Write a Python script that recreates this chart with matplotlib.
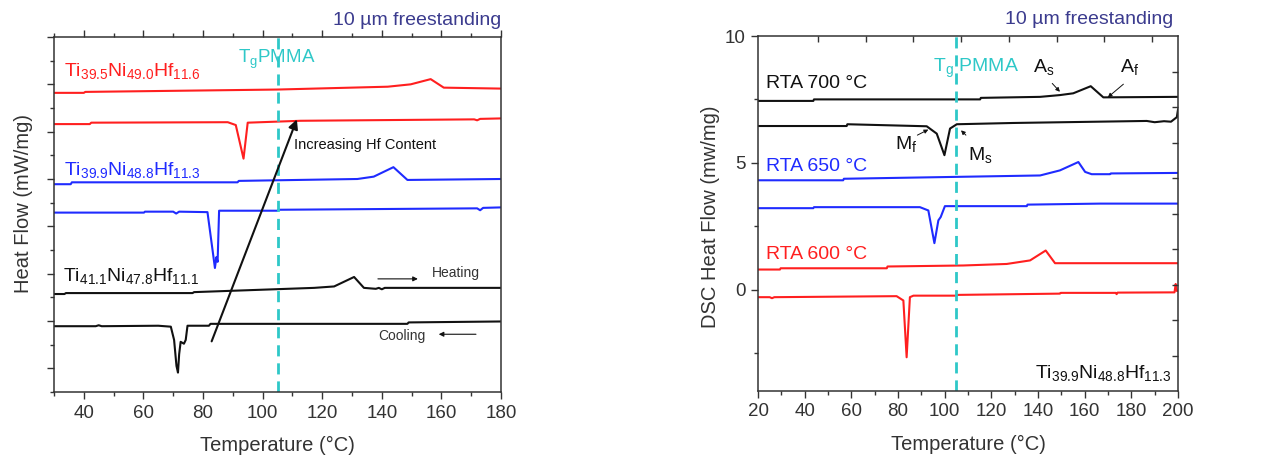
import matplotlib
matplotlib.use("Agg")
import matplotlib.pyplot as plt
from matplotlib.ticker import MultipleLocator, NullFormatter

plt.rcParams['font.family'] = ['Liberation Sans', 'DejaVu Sans']
plt.rcParams['mathtext.fontset'] = 'custom'
plt.rcParams['mathtext.rm'] = 'Liberation Sans'
plt.rcParams['mathtext.it'] = 'Liberation Sans:italic'
plt.rcParams['mathtext.bf'] = 'Liberation Sans:bold'
plt.rcParams['mathtext.default'] = 'regular'

# ---------------- composition series (left) ----------------
hf116_heat_T = [30, 40, 40.5, 105, 142, 149.7, 156.4, 160.8, 180]
hf116_heat_Q = [5.82, 5.82, 5.84, 5.89, 5.95, 6.00, 6.11, 5.93, 5.91]
hf116_cool_T = [30, 42, 42.5, 88.3, 91, 93.6, 95, 112.8, 171, 172, 173, 180]
hf116_cool_Q = [5.16, 5.16, 5.19, 5.20, 5.14, 4.43, 5.19, 5.23, 5.26, 5.24, 5.27, 5.28]

hf113_heat_T = [30, 35.6, 36, 91.6, 92, 131.8, 137.3, 143.9, 148.6, 180]
hf113_heat_Q = [3.89, 3.89, 3.93, 3.93, 3.96, 4.00, 4.05, 4.25, 3.98, 4.00]
hf113_cool_T = [30, 60.2, 60.5, 70, 71, 72, 81.5, 83.2, 84.0, 84.5, 84.9, 85.4, 105, 105.3, 172, 173, 174, 180]
hf113_cool_Q = [3.29, 3.29, 3.31, 3.31, 3.27, 3.31, 3.30, 2.50, 2.12, 2.35, 2.25, 3.33, 3.33, 3.35, 3.38, 3.34, 3.39, 3.40]

hf111_heat_T = [30, 33.5, 34, 76.5, 77, 117.3, 124, 130.7, 134, 138, 139, 140, 141, 180]
hf111_heat_Q = [1.57, 1.57, 1.59, 1.59, 1.61, 1.70, 1.73, 1.93, 1.70, 1.68, 1.70, 1.67, 1.70, 1.70]
hf111_cool_T = [30, 44, 45, 46, 65, 69.2, 70.3, 71.1, 71.6, 72.0, 72.5, 73.6, 74.2, 74.8, 82, 82.5, 148.6, 149, 180]
hf111_cool_Q = [0.89, 0.89, 0.91, 0.89, 0.90, 0.88, 0.60, 0.05, -0.09, 0.30, 0.56, 0.52, 0.60, 0.90, 0.90, 0.94, 0.94, 0.97, 0.99]

# ---------------- annealing series (right) ----------------
rta700_heat_T = [20, 43.7, 44, 115.2, 115.5, 140.9, 149.4, 155.1, 162.6, 168.0, 200]
rta700_heat_Q = [7.44, 7.44, 7.50, 7.50, 7.56, 7.60, 7.67, 7.74, 8.02, 7.58, 7.60]
rta700_cool_T = [20, 58, 58.3, 92.3, 96.6, 99.9, 102.3, 105.2, 129.4, 186.6, 190, 194, 197, 199.5, 200]
rta700_cool_Q = [6.45, 6.45, 6.52, 6.44, 6.15, 5.30, 6.35, 6.52, 6.57, 6.65, 6.60, 6.64, 6.62, 6.80, 7.10]

rta650_heat_T = [20, 56.5, 56.8, 140.9, 149.4, 157.3, 160.2, 163, 170.9, 171.2, 200]
rta650_heat_Q = [4.31, 4.31, 4.37, 4.50, 4.70, 5.03, 4.64, 4.55, 4.55, 4.58, 4.60]
rta650_cool_T = [20, 43.7, 44, 89.4, 93.0, 95.6, 97.3, 98.3, 100.1, 135.2, 135.5, 166.6, 200]
rta650_cool_Q = [3.21, 3.21, 3.25, 3.25, 3.12, 1.83, 2.73, 2.86, 3.29, 3.29, 3.35, 3.39, 3.39]

rta600_heat_T = [20, 29.4, 29.7, 75.2, 75.5, 108, 126.6, 136.6, 143.3, 147.3, 200]
rta600_heat_Q = [0.79, 0.79, 0.84, 0.84, 0.91, 0.95, 1.01, 1.15, 1.54, 1.04, 1.04]
rta600_cool_T = [20, 25, 26, 27, 79.4, 82.3, 83.7, 85.1, 86.6, 105.2, 105.5, 149.4, 149.7, 173.3, 173.7, 174.1, 198.5, 199, 199.4, 200]
rta600_cool_Q = [-0.30, -0.30, -0.34, -0.30, -0.26, -0.43, -2.67, -0.30, -0.24, -0.24, -0.21, -0.16, -0.13, -0.13, -0.18, -0.12, -0.11, 0.22, -0.05, -0.05]

tg_pmma = 105.0

RED = '#ff1f1f'
BLUE = '#1f2bff'
BLACK = '#111111'
CYAN = '#2ec8c8'
NAVY = '#3b3b8e'
GREY = '#333333'

fig = plt.figure(figsize=(12.76, 4.62), dpi=100)
axL = fig.add_axes([54 / 1276, 1 - 392 / 462, 447 / 1276, 355 / 462])
axR = fig.add_axes([758 / 1276, 1 - 391 / 462, 420 / 1276, 355 / 462])

lw = 1.5
for ax in (axL, axR):
    for s in ax.spines.values():
        s.set_color(GREY)
        s.set_linewidth(1.1)

# ---------- left panel ----------
axL.plot(hf116_heat_T, hf116_heat_Q, color=RED, lw=lw)
axL.plot(hf116_cool_T, hf116_cool_Q, color=RED, lw=lw)
axL.plot(hf113_heat_T, hf113_heat_Q, color=BLUE, lw=lw)
axL.plot(hf113_cool_T, hf113_cool_Q, color=BLUE, lw=lw)
axL.plot(hf111_heat_T, hf111_heat_Q, color=BLACK, lw=lw)
axL.plot(hf111_cool_T, hf111_cool_Q, color=BLACK, lw=lw)
axL.axvline(tg_pmma, color=CYAN, lw=2, ls=(0, (4, 2.5)))

axL.set_xlim(30, 180)
axL.set_ylim(-0.5, 7.0)
axL.xaxis.set_major_locator(MultipleLocator(20))
axL.xaxis.set_minor_locator(MultipleLocator(10))
axL.yaxis.set_major_locator(MultipleLocator(1))
axL.yaxis.set_minor_locator(MultipleLocator(0.5))
axL.yaxis.set_major_formatter(NullFormatter())
axL.tick_params(which='both', direction='out', top=True, right=False, color=GREY, width=1)
axL.tick_params(which='major', length=5, labelsize=13.5, labelcolor=GREY, pad=4)
axL.tick_params(which='minor', length=3)
axL.set_xlabel('Temperature (°C)', fontsize=14.5, color=GREY)
axL.set_ylabel('Heat Flow (mW/mg)', fontsize=14.5, color=GREY)
axL.xaxis.set_label_coords(0.5, -0.125)
axL.yaxis.set_label_coords(-0.047, 0.53)

axL.text(33.4, 6.17, r'Ti$_{39.5}$Ni$_{49.0}$Hf$_{11.6}$', color=RED, fontsize=14)
axL.text(33.4, 4.08, r'Ti$_{39.9}$Ni$_{48.8}$Hf$_{11.3}$', color=BLUE, fontsize=14)
axL.text(33.0, 1.84, r'Ti$_{41.1}$Ni$_{47.8}$Hf$_{11.1}$', color=BLACK, fontsize=14)
axL.text(91.7, 6.45, r'T$_g$PMMA', color=CYAN, fontsize=13.5)
axL.text(110.5, 4.64, 'Increasing Hf Content', color=BLACK, fontsize=10.5)
axL.annotate('', xy=(111.5, 5.26), xytext=(82.9, 0.57),
             arrowprops=dict(arrowstyle='-|>', color=BLACK, lw=1.5,
                             mutation_scale=14, shrinkA=0, shrinkB=0))
axL.text(156.8, 2.02, 'Heating', color=GREY, fontsize=10, va='center')
axL.annotate('', xy=(152.1, 1.89), xytext=(138.7, 1.89),
             arrowprops=dict(arrowstyle='-|>', color=BLACK, lw=0.8,
                             mutation_scale=7, shrinkA=0, shrinkB=0))
axL.text(138.7, 0.68, 'Cooling', color=GREY, fontsize=10, va='center')
axL.annotate('', xy=(159.1, 0.72), xytext=(171.6, 0.72),
             arrowprops=dict(arrowstyle='-|>', color=BLACK, lw=0.8,
                             mutation_scale=7, shrinkA=0, shrinkB=0))
axL.text(1.0, 1.022, '10 µm freestanding', transform=axL.transAxes,
         ha='right', va='bottom', color=NAVY, fontsize=14)

# ---------- right panel ----------
axR.plot(rta700_heat_T, rta700_heat_Q, color=BLACK, lw=lw)
axR.plot(rta700_cool_T, rta700_cool_Q, color=BLACK, lw=lw)
axR.plot(rta650_heat_T, rta650_heat_Q, color=BLUE, lw=lw)
axR.plot(rta650_cool_T, rta650_cool_Q, color=BLUE, lw=lw)
axR.plot(rta600_heat_T, rta600_heat_Q, color=RED, lw=lw)
axR.plot(rta600_cool_T, rta600_cool_Q, color=RED, lw=lw)
axR.axvline(tg_pmma, color=CYAN, lw=2, ls=(0, (4, 2.5)))

axR.set_xlim(20, 200)
axR.set_ylim(-4, 10)
axR.xaxis.set_major_locator(MultipleLocator(20))
axR.xaxis.set_minor_locator(MultipleLocator(10))
axR.yaxis.set_major_locator(MultipleLocator(5))
axR.yaxis.set_minor_locator(MultipleLocator(2.5))
axR.tick_params(which='both', direction='out', top=False, right=False, color=GREY, width=1)
axR.tick_params(which='major', length=5, labelsize=13.5, labelcolor=GREY, pad=4)
axR.tick_params(which='minor', length=3)
axR.set_xlabel('Temperature (°C)', fontsize=14.5, color=GREY)
axR.set_ylabel('DSC Heat Flow (mw/mg)', fontsize=14.5, color=GREY)
axR.xaxis.set_label_coords(0.5, -0.125)
axR.yaxis.set_label_coords(-0.09, 0.49)

# inner ticks on top and right spines
top_ticks = [45.7, 66.1, 86.6, 107.1, 127.6, 148.0, 168.4, 188.9]
right_ticks = [-2.6, -1.2, 0.2, 1.6, 3.0, 4.4, 5.8, 7.2, 8.6]
axT = axR.twiny()
axT.set_xlim(axR.get_xlim())
axT.set_xticks(top_ticks)
axT.xaxis.set_major_formatter(NullFormatter())
axT.tick_params(direction='in', length=4, color=GREY, width=1)
axRR = axR.twinx()
axRR.set_ylim(axR.get_ylim())
axRR.set_yticks(right_ticks)
axRR.yaxis.set_major_formatter(NullFormatter())
axRR.tick_params(direction='in', length=4, color=GREY, width=1)
for a in (axT, axRR):
    for s in a.spines.values():
        s.set_visible(False)

axR.text(23.4, 7.93, 'RTA 700 °C', color=BLACK, fontsize=14)
axR.text(23.4, 4.68, 'RTA 650 °C', color=BLUE, fontsize=14)
axR.text(23.4, 1.21, 'RTA 600 °C', color=RED, fontsize=14)
axR.text(197.4, -3.5, r'Ti$_{39.9}$Ni$_{48.8}$Hf$_{11.3}$', color=BLACK, fontsize=14, ha='right')
axR.text(95.0, 8.6, r'T$_g$ PMMA', color=CYAN, fontsize=14)
axR.text(137.9, 8.59, r'A$_s$', color=BLACK, fontsize=14)
axR.text(175.2, 8.59, r'A$_f$', color=BLACK, fontsize=14)
axR.text(78.7, 5.56, r'M$_f$', color=BLACK, fontsize=14)
axR.text(110.1, 5.10, r'M$_s$', color=BLACK, fontsize=14)
small_arrow = dict(arrowstyle='-|>', color=BLACK, lw=0.7, mutation_scale=6, shrinkA=0, shrinkB=0)
axR.annotate('', xy=(149.4, 7.80), xytext=(146.1, 8.13), arrowprops=small_arrow)
axR.annotate('', xy=(169.9, 7.58), xytext=(176.6, 8.10), arrowprops=small_arrow)
axR.annotate('', xy=(93.0, 6.31), xytext=(88.3, 6.09), arrowprops=small_arrow)
axR.annotate('', xy=(107.0, 6.28), xytext=(109.1, 6.09), arrowprops=small_arrow)
axR.text(0.988, 1.022, '10 µm freestanding', transform=axR.transAxes,
         ha='right', va='bottom', color=NAVY, fontsize=14)

fig.savefig('out.png', dpi=100)
